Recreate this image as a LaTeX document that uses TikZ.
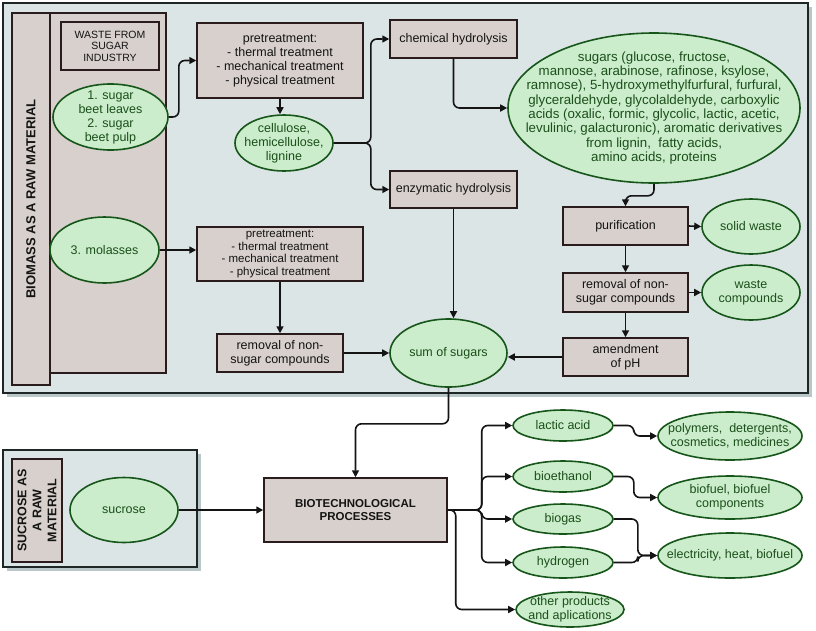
\documentclass[tikz,border=0pt]{standalone}
\usepackage{fontspec}
\setmainfont{Liberation Sans}
\usetikzlibrary{arrows.meta,shapes.geometric}
\definecolor{Panel}{HTML}{DCE5E6}
\definecolor{PanelShade}{HTML}{BAC7C9}
\definecolor{Frame}{HTML}{1E2626}
\definecolor{Taupe}{HTML}{D8D0CC}
\definecolor{TaupeLine}{HTML}{2A1C1C}
\definecolor{Leaf}{HTML}{CBEDCB}
\definecolor{LeafLine}{HTML}{17561A}
\definecolor{LeafText}{HTML}{1B4F1B}
\definecolor{Ink}{HTML}{141414}

\begin{document}
\begin{tikzpicture}[x=1pt,y=-1pt,
    wh/.style args={#1x#2}{minimum width=#1pt,minimum height=#2pt},
    box/.style={draw=TaupeLine,fill=Taupe,line width=1.5pt,inner sep=0pt,
      align=center,text=Ink,font=\fontsize{12.5}{14}\selectfont},
    oval/.style={ellipse,draw=LeafLine,fill=Leaf,line width=1.6pt,inner sep=0pt},
    ovaltext/.style={align=center,text=LeafText,font=\fontsize{12.5}{14}\selectfont},
    arr/.style={-{Triangle[length=7pt,width=7pt]},line width=1.6pt,
      rounded corners=6pt,draw=Ink}]
  \fill[white] (0,0) rectangle (816,630);
  \useasboundingbox (0,0) rectangle (816,630);

  % panels
  \fill[PanelShade] (7,7) rectangle (812,397);
  \filldraw[fill=Panel,draw=Frame,line width=2pt] (3,3) rectangle (808,393);
  \fill[PanelShade] (7,454) rectangle (201,571);
  \filldraw[fill=Panel,draw=Frame,line width=2pt] (3,450) rectangle (197,567);

  % biomass part
  \node[box,wh=116x360] (column) at (108,193) {};
  \node[box,wh=372x38,rotate=90,font=\bfseries\fontsize{13}{15}\selectfont]
    (biomass) at (31,199) {BIOMASS AS A RAW MATERIAL};
  \node[box,wh=98x48,font=\fontsize{10.5}{11.5}\selectfont] (waste) at (110,46)
    {WASTE FROM\\SUGAR\\INDUSTRY};
  \node[oval,wh=115x66,label={[ovaltext]center:1. sugar\\beet leaves\\2. sugar\\beet pulp}]
    (beet) at (110.5,117) {};
  \node[oval,wh=109x66,label={[ovaltext]center:3. molasses}] (mol) at (104.5,250) {};

  \node[box,wh=166x75] (pre1) at (280,60.5)
    {pretreatment:\\- thermal treatment\\- mechanical treatment\\- physical treatment};
  \node[box,wh=166x54,font=\fontsize{11.5}{12.8}\selectfont] (pre2) at (280,254)
    {pretreatment:\\- thermal treatment\\- mechanical treatment\\- physical treatment};
  \node[oval,wh=98x56,label={[ovaltext]center:cellulose,\\hemicellulose,\\lignine}]
    (cell) at (284,143) {};
  \node[box,wh=127x38] (chem) at (453.5,39) {chemical hydrolysis};
  \node[box,wh=127x37] (enz) at (453.5,189.5) {enzymatic hydrolysis};
  \node[oval,wh=292x150,label={[ovaltext,font=\fontsize{13.3}{14.3}\selectfont]center:{sugars (glucose, fructose,\\
    mannose, arabinose, rafinose, ksylose,\\
    ramnose), 5-hydroxymethylfurfural, furfural,\\
    glyceraldehyde, glycolaldehyde, carboxylic\\
    acids (oxalic, formic, glycolic, lactic, acetic,\\
    levulinic, galacturonic), aromatic derivatives\\
    from lignin,\ \ fatty acids,\\
    amino acids, proteins}}] (sug) at (654,108) {};

  \node[box,wh=125x38] (purif) at (625.5,226) {purification};
  \node[box,wh=125x39] (rem2) at (625.5,292.5) {removal of non-\\sugar compounds};
  \node[box,wh=125x38] (amend) at (625.5,357) {amendment\\of pH};
  \node[oval,wh=98x55,label={[ovaltext]center:solid waste}] (solid) at (751,226.5) {};
  \node[oval,wh=98x55,label={[ovaltext]center:waste\\compounds}] (wcomp) at (751,292.5) {};
  \node[box,wh=126x38] (rem1) at (280,353) {removal of non-\\sugar compounds};
  \node[oval,wh=117x68,label={[ovaltext]center:sum of sugars}] (sum) at (448.5,353) {};

  % sucrose part
  \node[box,wh=103x50,rotate=90,font=\bfseries\fontsize{12.5}{15}\selectfont]
    (sucrlab) at (37,510.5) {SUCROSE AS\\A RAW\\MATERIAL};
  \node[oval,wh=108x65,label={[ovaltext]center:sucrose}] (suc) at (124,510) {};
  \node[box,wh=183x64,font=\bfseries\fontsize{11.5}{13}\selectfont] (bio) at (355.5,510)
    {BIOTECHNOLOGICAL\\PROCESSES};

  % products
  \node[oval,wh=100x31,label={[ovaltext]center:lactic acid}] (lactic) at (563,425.5) {};
  \node[oval,wh=100x31,label={[ovaltext]center:bioethanol}] (bioeth) at (563,476.5) {};
  \node[oval,wh=100x30,label={[ovaltext]center:biogas}] (biogas) at (563,519) {};
  \node[oval,wh=100x31,label={[ovaltext]center:hydrogen}] (hydro) at (563,562.5) {};
  \node[oval,wh=108x35,label={[ovaltext]center:other products\\and aplications}]
    (other) at (570,609.5) {};
  \node[oval,wh=144x48,label={[ovaltext]center:{polymers,\ \ detergents,\\cosmetics, medicines}}]
    (poly) at (730,436) {};
  \node[oval,wh=144x43,label={[ovaltext]center:{biofuel, biofuel\\components}}]
    (biofuel) at (730,497.5) {};
  \node[oval,wh=144x45,label={[ovaltext]center:{electricity, heat, biofuel}}]
    (elec) at (730,555.5) {};

  % connectors
  \draw[arr] (beet.east) -- ++(10,0) |- (pre1.west);
  \draw[arr] (mol.east) -- (mol.east -| pre2.west);
  \draw[arr] (pre1.south) -- (pre1.south |- cell.north);
  \draw[arr] (cell.east) -- ++(37,0) |- (chem.west);
  \draw[arr] (cell.east) -- ++(37,0) |- (enz.west);
  \draw[arr] (chem.south) |- (sug.west);
  \draw[arr] (sug.south) -- ++(0,12) -| (purif.north);
  \draw[arr] (purif.east) -- (solid.west);
  \draw[arr] (rem2.east) -- (wcomp.west);
  \draw[arr] (purif.south) -- (rem2.north);
  \draw[arr] (rem2.south) -- (amend.north);
  \draw[arr] (amend.west) -- (amend.west -| sum.east);
  \draw[arr] (enz.south) -- (enz.south |- sum.north);
  \draw[arr] (pre2.south) -- (rem1.north);
  \draw[arr] (rem1.east) -- (sum.west);
  \draw[arr] (sum.south) -- ++(0,36) -| (bio.north);
  \draw[arr] (suc.east) -- (bio.west);
  \foreach \p in {lactic,bioeth,biogas,hydro}
    \draw[arr] (bio.east) -- ++(34,0) |- (\p.west);
  \draw[arr] (bio.east) -- ++(8,0) |- (other.west);
  \draw[arr] (lactic.east) -- ++(20,0) |- (poly.west);
  \draw[arr] (bioeth.east) -- ++(20,0) |- (biofuel.west);
  \draw[arr] (biogas.east) -- ++(24,0) |- (elec.west);
  \draw[arr] (hydro.east) -- ++(24,0) |- (elec.west);
\end{tikzpicture}
\end{document}
